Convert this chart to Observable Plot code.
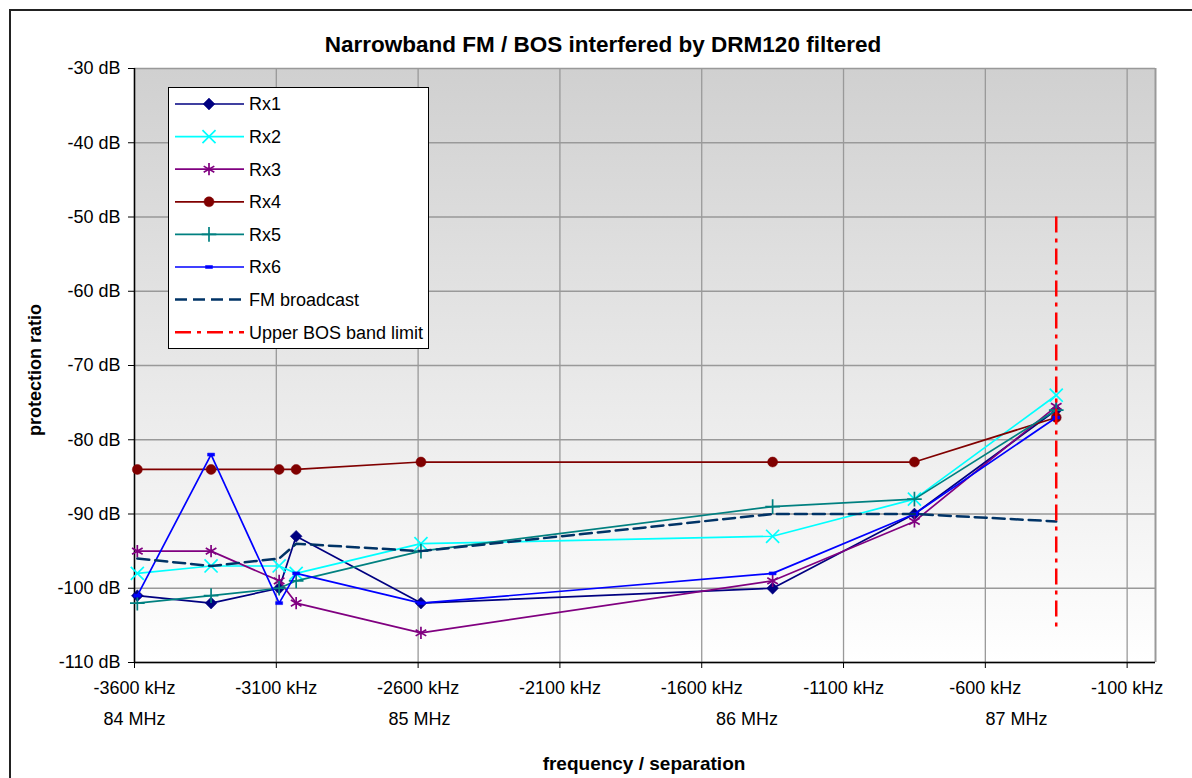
<!DOCTYPE html>
<html>
<head>
<meta charset="utf-8">
<script src="https://cdn.jsdelivr.net/npm/d3@7"></script>
<script src="https://cdn.jsdelivr.net/npm/@observablehq/plot@0.6"></script>
<style>
  html, body { margin: 0; padding: 0; background: #fff; overflow: hidden; }
  #chart { position: relative; width: 1192px; height: 778px; }
  #chart svg { font-family: "Liberation Sans", Arial, sans-serif; }
</style>
</head>
<body>
<svg width="0" height="0" style="position:absolute">
  <defs>
    <linearGradient id="bg" x1="0" y1="0" x2="0" y2="1">
      <stop offset="0" stop-color="#d0d0d0"/>
      <stop offset="1" stop-color="#ffffff"/>
    </linearGradient>
  </defs>
</svg>
<div id="chart"></div>
<script>
// ---- data ----
const freqKHz = [-3590, -3330, -3090, -3030, -2590, -1350, -850, -350];
const rx1 = [-101, -102, -100, -93, -102, -100, -90, -76];
const rx2 = [-98, -97, -97, -98, -94, -93, -88, -74];
const rx3 = [-95, -95, -99, -102, -106, -99, -91, -75.5];
const rx4 = [-84, -84, -84, -84, -83, -83, -83, -77];
const rx5 = [-102, -101, -100, -99, -95, -89, -88, -76];
const rx6 = [-101, -82, -102, -98, -102, -98, -90, -77];
const fmBroadcast = [-96, -97, -96, -94, -95, -90, -90, -91];
const bosLimitKHz = -350;
const bosLimitRange = [-50, -106];
const xTicks = [-3600, -3100, -2600, -2100, -1600, -1100, -600, -100];
const yTicks = [-30, -40, -50, -60, -70, -80, -90, -100, -110];
const mhzLabels = ["84 MHz", "85 MHz", "86 MHz", "87 MHz"];
const mhzPositions = [-3600, -2595, -1440, -490];
const seriesNames = ["Rx1", "Rx2", "Rx3", "Rx4", "Rx5", "Rx6"];
const seriesValues = [rx1, rx2, rx3, rx4, rx5, rx6];

// ---- styles ----
const colors = {Rx1: "#000080", Rx2: "#00ffff", Rx3: "#800080", Rx4: "#800000", Rx5: "#008080", Rx6: "#0000ff"};
const dashSymbol = {draw(ctx) { ctx.rect(-3.5, -1.5, 7, 3); }};
const markerDefs = {
  Rx1: {symbol: "square", r: 4.7, rotate: 45, fill: true},
  Rx2: {symbol: "times", r: 6, fill: false},
  Rx3: {symbol: "asterisk", r: 5.8, fill: false},
  Rx4: {symbol: "circle", r: 5, fill: true},
  Rx5: {symbol: "plus", r: 4.8, fill: false},
  Rx6: {symbol: dashSymbol, r: 4, fill: true}
};

const rows = [];
seriesNames.forEach((name, s) => freqKHz.forEach((f, i) => rows.push({series: name, f, v: seriesValues[s][i]})));
const fmRows = freqKHz.map((f, i) => ({f, v: fmBroadcast[i]}));

const marks = [
  Plot.frame({fill: "url(#bg)", stroke: "none"}),
  Plot.gridX(xTicks, {stroke: "#999", strokeOpacity: 1, strokeWidth: 1.3}),
  Plot.gridY(yTicks, {stroke: "#999", strokeOpacity: 1, strokeWidth: 1.3}),
  Plot.ruleX([0], {stroke: "#999", strokeWidth: 2}),
  Plot.ruleX([-3600], {stroke: "#000", strokeWidth: 1.5}),
  Plot.ruleY([-110], {stroke: "#000", strokeWidth: 1.5}),
  Plot.axisX(xTicks, {tickFormat: d => `${d} kHz`, tickSize: 6, tickPadding: 13, fontSize: 18, label: null, stroke: "#000"}),
  Plot.axisX(mhzPositions, {tickFormat: (d, i) => mhzLabels[i], tickSize: 0, tickPadding: 50, fontSize: 18, label: null}),
  Plot.axisY(yTicks, {tickFormat: d => `${d} dB`, tickSize: 6, tickPadding: 8, fontSize: 18, label: null})
];
seriesNames.forEach(name => {
  const data = rows.filter(r => r.series === name);
  const m = markerDefs[name];
  marks.push(Plot.line(data, {x: "f", y: "v", stroke: colors[name], strokeWidth: 1.7}));
  marks.push(Plot.dot(data, {
    x: "f", y: "v", symbol: m.symbol, r: m.r, rotate: m.rotate || 0,
    fill: m.fill ? colors[name] : "none", stroke: colors[name], strokeWidth: m.fill ? 0.5 : 1.7
  }));
});
marks.push(Plot.line(fmRows, {x: "f", y: "v", stroke: "#003366", strokeWidth: 2.5, strokeDasharray: "12,6"}));
marks.push(Plot.ruleX([bosLimitKHz], {y1: bosLimitRange[0], y2: bosLimitRange[1], stroke: "#ff0000", strokeWidth: 2.5, strokeDasharray: "16,6,4,6"}));

const plot = Plot.plot({
  width: 1192, height: 778,
  marginLeft: 134, marginRight: 37, marginTop: 68, marginBottom: 116,
  style: {fontFamily: "'Liberation Sans', Arial, sans-serif", fontSize: "18px", color: "#000", background: "transparent"},
  x: {domain: [-3600, 0], axis: null},
  y: {domain: [-110, -30], axis: null},
  marks
});

const svg = d3.select(plot);
// outer chart border
svg.insert("rect", ":first-child")
  .attr("x", 10).attr("y", 10).attr("width", 1300).attr("height", 900)
  .attr("fill", "#fff").attr("stroke", "#222").attr("stroke-width", 2);

// title and axis titles
svg.append("text").attr("x", 603).attr("y", 52).attr("text-anchor", "middle")
  .attr("font-size", 22.5).attr("font-weight", "bold").text("Narrowband FM / BOS interfered by DRM120 filtered");
svg.append("text").attr("transform", "translate(35,370) rotate(-90)").attr("text-anchor", "middle")
  .attr("dy", "0.35em").attr("font-size", 18).attr("font-weight", "bold").text("protection ratio");
svg.append("text").attr("x", 644).attr("y", 770).attr("text-anchor", "middle")
  .attr("font-size", 19).attr("font-weight", "bold").text("frequency / separation");

// legend
const lg = svg.append("g").attr("text-anchor", "start");
lg.append("rect").attr("x", 168.5).attr("y", 87.5).attr("width", 260).attr("height", 261)
  .attr("fill", "#fff").attr("stroke", "#000").attr("stroke-width", 1);
const d3Sym = {Rx1: d3.symbolSquare, Rx2: d3.symbolTimes, Rx3: d3.symbolAsterisk, Rx4: d3.symbolCircle, Rx5: d3.symbolPlus, Rx6: dashSymbol};
const legendItems = seriesNames.concat(["FM broadcast", "Upper BOS band limit"]);
legendItems.forEach((name, i) => {
  const y = 104 + i * 32.6;
  let stroke, dash = null, w = 1.7;
  if (name === "FM broadcast") { stroke = "#003366"; dash = "12,6"; w = 2.5; }
  else if (name === "Upper BOS band limit") { stroke = "#ff0000"; dash = "16,6,4,6"; w = 2.5; }
  else stroke = colors[name];
  lg.append("line").attr("x1", 175).attr("x2", 244).attr("y1", y).attr("y2", y)
    .attr("stroke", stroke).attr("stroke-width", w).attr("stroke-dasharray", dash);
  if (colors[name]) {
    const m = markerDefs[name];
    lg.append("path")
      .attr("d", d3.symbol(d3Sym[name], Math.PI * m.r * m.r)())
      .attr("transform", `translate(209,${y}) rotate(${m.rotate || 0})`)
      .attr("fill", m.fill ? stroke : "none").attr("stroke", stroke).attr("stroke-width", m.fill ? 0.5 : 1.7);
  }
  lg.append("text").attr("x", 249).attr("y", y).attr("dy", "0.35em")
    .attr("text-anchor", "start").attr("font-size", 18).text(name);
});

document.getElementById("chart").appendChild(plot);
</script>
</body>
</html>
